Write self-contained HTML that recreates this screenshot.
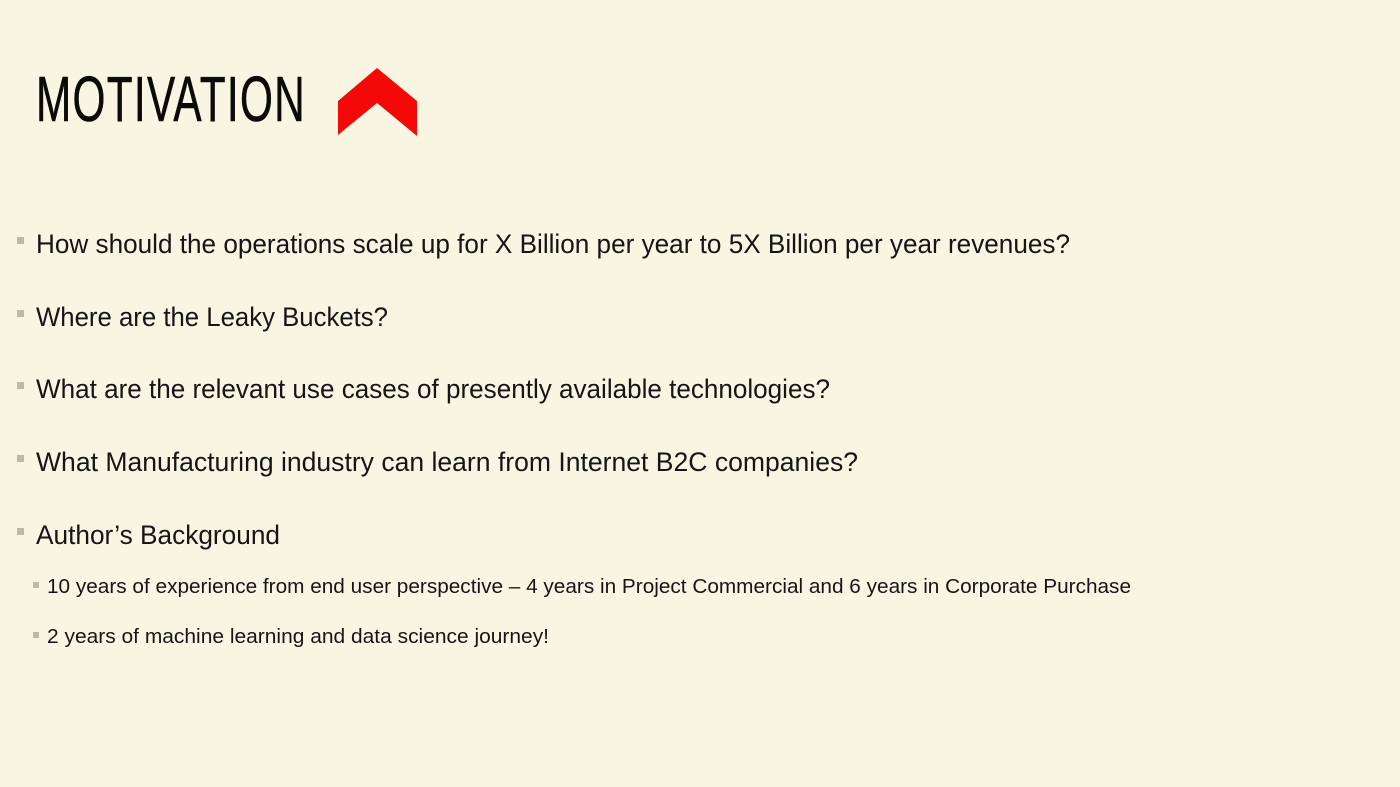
<!DOCTYPE html>
<html><head><meta charset="utf-8"><style>
html,body{margin:0;padding:0}
body{width:1400px;height:787px;background:#f8f6e3;position:relative;overflow:hidden;font-family:"Liberation Sans",sans-serif;color:#151515}
.t{position:absolute;white-space:nowrap;transform-origin:0 0;line-height:1}
.b{position:absolute;background:#bcb9aa}
#title{font-family:"Liberation Sans Narrow","Liberation Sans",sans-serif;font-size:64px;color:#0a0a06;letter-spacing:2px;-webkit-text-stroke:0.6px #0a0a06}
.m{font-size:27px;font-weight:300}
.s{font-size:20px}
</style></head><body>
<div id="title" class="t" data-w="270" style="left:36px;top:67px">MOTIVATION</div>
<svg style="position:absolute;left:0;top:0" width="1400" height="787"><polygon points="338,101 377,68 417,101 417,136 377,103 338,135" fill="#f40808"/></svg>

<div class="b" style="left:17px;top:237px;width:7px;height:7px"></div>
<div class="t m" data-w="1034" style="left:36px;top:231px">How should the operations scale up for X Billion per year to 5<b>X</b> Billion per year revenues?</div>
<div class="b" style="left:17px;top:310px;width:7px;height:7px"></div>
<div class="t m" data-w="352" style="left:36px;top:304px">Where are the Leaky Buckets?</div>
<div class="b" style="left:17px;top:382px;width:7px;height:7px"></div>
<div class="t m" data-w="794" style="left:36px;top:376px">What are the relevant use cases of presently available technologies?</div>
<div class="b" style="left:17px;top:455px;width:7px;height:7px"></div>
<div class="t m" data-w="822" style="left:36px;top:449px">What Manufacturing industry can learn from Internet B2C companies?</div>
<div class="b" style="left:17px;top:528px;width:7px;height:7px"></div>
<div class="t m" data-w="244" style="left:36px;top:522px">Author’s Background</div>
<div class="b" style="left:33px;top:582px;width:6px;height:6px"></div>
<div class="t s" data-w="1084" style="left:47px;top:577px">10 years of experience from end user perspective – 4 years in Project Commercial and 6 years in Corporate Purchase</div>
<div class="b" style="left:33px;top:632px;width:6px;height:6px"></div>
<div class="t s" data-w="502" style="left:47px;top:627px">2 years of machine learning and data science journey!</div>
<script>
document.querySelectorAll('[data-w]').forEach(function(e){
  var w=e.getBoundingClientRect().width, tw=+e.getAttribute('data-w');
  if(w>0) e.style.transform='scaleX('+(tw/w)+')';
});
</script>
</body></html>
